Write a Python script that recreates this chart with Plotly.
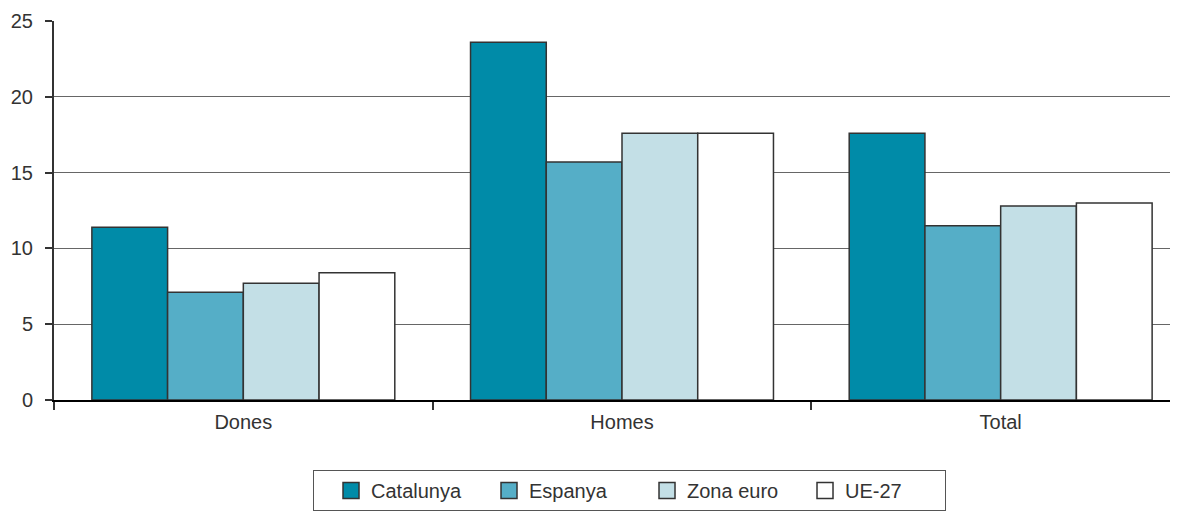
import plotly.graph_objects as go

categories = ["Dones", "Homes", "Total"]
series = ["Catalunya", "Espanya", "Zona euro", "UE-27"]
catalunya = [11.4, 23.6, 17.6]
espanya = [7.1, 15.7, 11.5]
zona_euro = [7.7, 17.6, 12.8]
ue27 = [8.4, 17.6, 13.0]
colors = ["#008ba8", "#55aec7", "#c3dfe6", "#ffffff"]

fig = go.Figure()
for name, vals, col in zip(series, [catalunya, espanya, zona_euro, ue27], colors):
    fig.add_trace(go.Bar(x=categories, y=vals, name=name, marker_color=col,
                         marker_line_color="#333333", marker_line_width=1.5,
                         legendgroup=name, showlegend=False))
    # bigger square swatch for the legend
    fig.add_trace(go.Scatter(x=[None], y=[None], mode="markers", name=name, legendgroup=name,
                             marker=dict(symbol="square", size=16, color=col,
                                         line=dict(color="#333333", width=1.5))))

# page body has an 8px margin; plot runs slightly past the right edge like the original
fig.update_layout(
    width=1182, height=523,
    margin=dict(l=46, r=0, t=13, b=131),
    barmode="group", bargap=0.2, bargroupgap=0,
    plot_bgcolor="white", paper_bgcolor="white",
    font=dict(family="Liberation Sans, Arial, sans-serif", size=20, color="#333333"),
    legend=dict(orientation="h", x=0.228, xanchor="left", y=-0.185, yanchor="top",
                bordercolor="#555555", borderwidth=1, entrywidth=95, indentation=18,
                font=dict(size=20)),
)
fig.update_xaxes(showline=True, linecolor="black", linewidth=2, tickson="boundaries",
                 ticks="outside", ticklen=8, tickwidth=2, tickcolor="#333333",
                 ticklabelstandoff=3)
fig.update_yaxes(range=[0, 25], dtick=5, showline=True, linecolor="#333333", linewidth=2,
                 ticks="outside", ticklen=7, tickwidth=2, tickcolor="#333333",
                 ticklabelstandoff=8,
                 gridcolor="#666666", gridwidth=1, zeroline=False)

fig.write_html("out.html")
